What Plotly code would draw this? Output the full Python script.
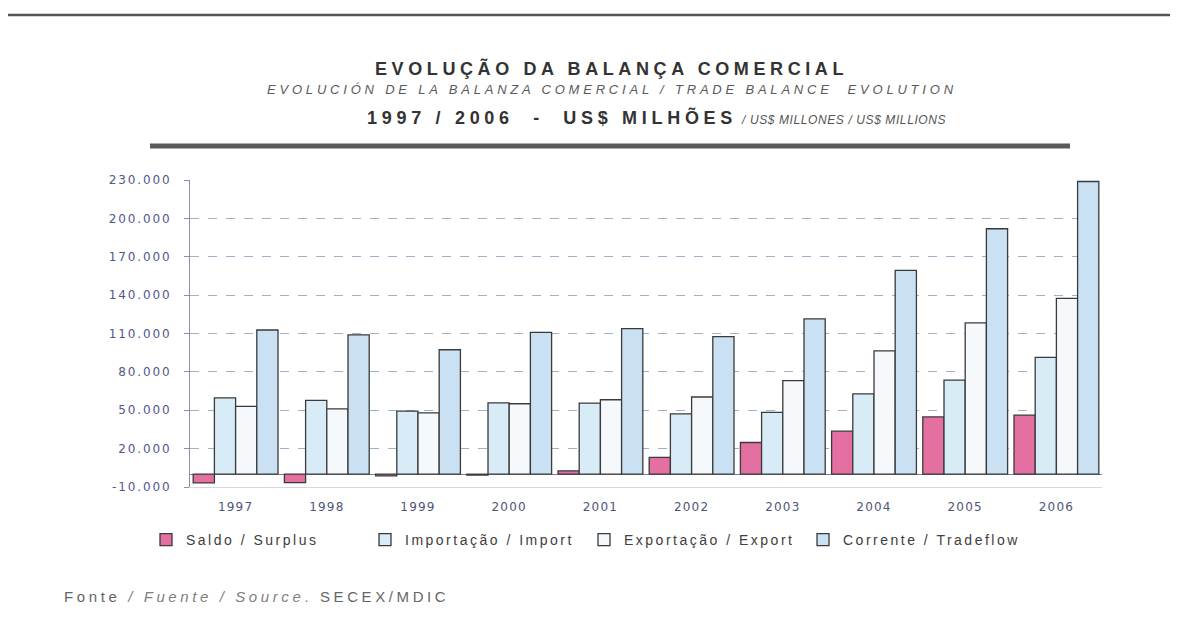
import plotly.graph_objects as go

# Dados (US$ milhões)
anos = ['1997', '1998', '1999', '2000', '2001', '2002', '2003', '2004', '2005', '2006']
saldo = [-6765, -6624, -1289, -698, 2650, 13121, 24794, 33640, 44757, 46119]
importacao = [59747, 57763, 49302, 55839, 55572, 47240, 48290, 62835, 73600, 91351]
exportacao = [52983, 51140, 48011, 55086, 58223, 60362, 73084, 96475, 118308, 137470]
corrente = [112730, 108903, 97313, 110925, 113795, 107602, 121374, 159311, 191908, 228821]

y_ticks = [-10000, 20000, 50000, 80000, 110000, 140000, 170000, 200000, 230000]

FONT = 'Liberation Sans, Arial, sans-serif'
TICK_FONT = 'DejaVu Sans, Verdana, sans-serif'
CONTORNO = dict(color='#3a3a3a', width=1.3)


def esp(texto, ls):
    # texto com espaçamento entre letras (o original é bem "largo")
    return f'<span style="letter-spacing:{ls}px">{texto}</span>'


def fmt(v):
    return f'{v:,}'.replace(',', '.')


fig = go.Figure()

series = [
    ('Saldo / Surplus', saldo, '#e46fa1'),
    ('Importação / Import', importacao, '#d8ecf8'),
    ('Exportação / Export', exportacao, '#f5f9fc'),
    ('Corrente / Tradeflow', corrente, '#cae1f3'),
]
for nome, valores, cor in series:
    fig.add_trace(go.Bar(x=anos, y=valores, name=esp(nome, 2.5),
                         marker=dict(color=cor, line=CONTORNO)))

# pixels da tela -> coordenadas paper (área do gráfico: x 190..1102, y 180..487)
def px_x(p):
    return (p - 190) / 912.0

def px_y(p):
    return (487 - p) / 307.0

fig.update_layout(
    width=1178, height=627,
    margin=dict(l=182, r=84, t=172, b=148),
    paper_bgcolor='white', plot_bgcolor='white',
    barmode='group', bargap=0.07, bargroupgap=0,
    showlegend=True,
    legend=dict(orientation='h', x=px_x(146), xanchor='left', y=px_y(540), yanchor='middle',
                font=dict(family=FONT, size=14, color='#404040'),
                entrywidthmode='pixels', entrywidth=174, traceorder='normal',
                itemwidth=30),
    font=dict(family=FONT),
)

fig.update_xaxes(
    showline=True, linecolor='#d8d8d8', linewidth=1,
    ticks='', tickfont=dict(family=TICK_FONT, size=12, color='#4d5578'),
    tickvals=anos, ticktext=[esp(a, 1.2) for a in anos],
    ticklabelstandoff=9,
    showgrid=False,
)
fig.update_yaxes(
    range=[-10000, 230000], tickvals=y_ticks, ticktext=[esp(fmt(v), 1.9) for v in y_ticks],
    showline=True, linecolor='#8a90a8', linewidth=1,
    ticks='outside', ticklen=5, tickcolor='#8a90a8', ticklabelstandoff=10,
    tickfont=dict(family=TICK_FONT, size=12, color='#52578a'),
    showgrid=True, gridcolor='#a4aecb', griddash='dash', gridwidth=1,
    zeroline=True, zerolinecolor='#7a7f90', zerolinewidth=1,
)

# linhas decorativas
fig.add_shape(type='line', xref='paper', yref='paper',
              x0=px_x(5), x1=px_x(1178), y0=px_y(15), y1=px_y(15),
              line=dict(color='#555555', width=2.5))
fig.add_shape(type='line', xref='paper', yref='paper',
              x0=px_x(150), x1=px_x(1070), y0=px_y(146), y1=px_y(146),
              line=dict(color='#5a5a5a', width=5))

# títulos
fig.add_annotation(text='<b>' + esp('EVOLUÇÃO DA BALANÇA COMERCIAL', 4.6) + '</b>',
                   xref='paper', yref='paper', x=px_x(611), y=px_y(68),
                   xanchor='center', yanchor='middle', showarrow=False,
                   font=dict(family=FONT, size=18, color='#333333'))
fig.add_annotation(text='<i>' + esp('EVOLUCIÓN DE LA BALANZA COMERCIAL / TRADE BALANCE  EVOLUTION', 3.8) + '</i>',
                   xref='paper', yref='paper', x=px_x(612), y=px_y(89),
                   xanchor='center', yanchor='middle', showarrow=False,
                   font=dict(family=FONT, size=13, color='#5a5a5a'))
fig.add_annotation(text='<b>' + esp('1997 / 2006  -  US$ MILHÕES', 4.7) + '</b> '
                        '<i><span style="font-size:12px;color:#555555;letter-spacing:0.6px">/ US$ MILLONES / US$ MILLIONS</span></i>',
                   xref='paper', yref='paper', x=px_x(656), y=px_y(118),
                   xanchor='center', yanchor='middle', showarrow=False,
                   font=dict(family=FONT, size=18, color='#333333'))

# fonte
fig.add_annotation(text=esp('Fonte <span style="color:#808080"><i>/ Fuente / Source</i>.</span> SECEX/MDIC', 3.6),
                   xref='paper', yref='paper',
                   x=px_x(62), y=px_y(596), xanchor='left', yanchor='middle', showarrow=False,
                   font=dict(family=FONT, size=15, color='#666666'))

fig.write_html('out.html')
